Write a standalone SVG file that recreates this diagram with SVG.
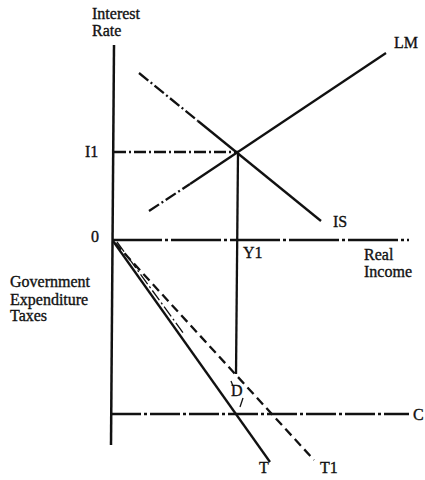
<svg xmlns="http://www.w3.org/2000/svg" width="425" height="480" viewBox="0 0 425 480">
<style>
text{font-family:"Liberation Serif","Times New Roman",serif;fill:#111;font-size:16px;stroke:#111;stroke-width:0.35}
.ln{stroke:#111;stroke-width:2.3;fill:none;stroke-linecap:butt}
.ax{stroke:#111;stroke-width:2.5;fill:none}
.dd{stroke-dasharray:12 3 2 3}
.ds{stroke-dasharray:9 5}
.thin{stroke:#111;stroke-width:1.3;fill:none}
</style>
<rect width="425" height="480" fill="#fff"/>
<g id="axes">
<line class="ax" x1="114" y1="45" x2="111" y2="445"/>
<line class="ax" x1="112" y1="240" x2="409" y2="240" stroke-dasharray="50 3 3 3"/>
</g>
<g id="guides">
<line class="ln dd" x1="114" y1="152" x2="238" y2="152"/>
<line class="ln" x1="238" y1="153" x2="236" y2="374"/>
<line class="ln" x1="111" y1="414" x2="409" y2="414" stroke-dasharray="30 3 3 3"/>
</g>
<g id="IS">
<line class="ln dd" x1="139" y1="73" x2="198" y2="121"/>
<line class="ln" x1="198" y1="121" x2="321" y2="221"/>
</g>
<g id="LM">
<line class="ln dd" x1="149" y1="211" x2="190" y2="184"/>
<line class="ln" x1="190" y1="184" x2="386" y2="53"/>
</g>
<g id="T">
<line class="ln" x1="113" y1="241" x2="270" y2="462"/>
<line class="thin dd" x1="117" y1="242" x2="184" y2="334"/>
</g>
<g id="T1">
<line class="ln ds" x1="115" y1="243" x2="314" y2="460"/>
</g>
<g id="marks">
<line class="thin" x1="231" y1="381" x2="233" y2="386"/>
<line class="thin" x1="243" y1="398" x2="240" y2="407"/>
</g>
<g id="labels">
<text x="92" y="19">Interest</text>
<text x="92" y="36">Rate</text>
<text x="85" y="157">I1</text>
<text x="91" y="242">0</text>
<text x="394" y="48" font-size="17">LM</text>
<text x="333" y="227" font-size="17">IS</text>
<text x="243" y="258">Y1</text>
<text x="364" y="260" font-size="17">Real</text>
<text x="364" y="277" font-size="17">Income</text>
<text x="10" y="287" font-size="17">Government</text>
<text x="10" y="305" font-size="17">Expenditure</text>
<text x="10" y="321" font-size="17">Taxes</text>
<text x="231" y="396">D</text>
<text x="413" y="420" font-size="17">C</text>
<text x="259" y="473" font-size="17">T</text>
<text x="320" y="473" font-size="17">T1</text>
</g>
</svg>
